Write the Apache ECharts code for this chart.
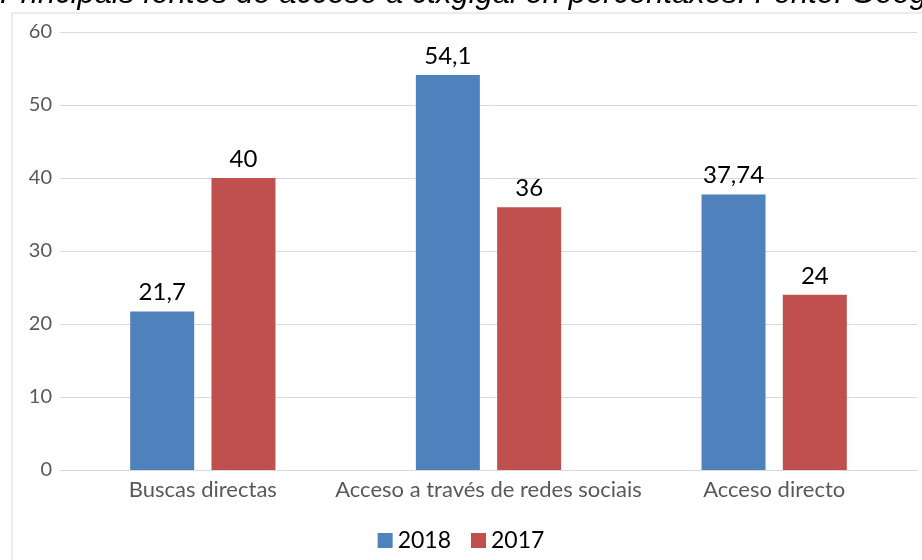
<!DOCTYPE html>
<html>
<head>
<meta charset="utf-8">
<script src="https://cdn.jsdelivr.net/npm/echarts@6/dist/echarts.min.js"></script>
<style>
html,body{margin:0;padding:0;background:#fff;}
#c{width:922px;height:560px;}
</style>
</head>
<body>
<div id="c"></div>
<script>
var categories = ['Buscas directas', 'Acceso a través de redes sociais', 'Acceso directo'];
var series2018 = [21.7, 54.1, 37.74];
var series2017 = [40, 36, 24];
var seriesNames = ['2018', '2017'];
var titleText = 'Principais fontes de acceso a ctxgigal en percentaxes. Fonte: Google Analytics';

var chart = echarts.init(document.getElementById('c'), null, {renderer: 'canvas'});
var labelFmt = function (p) { return String(p.value).replace('.', ','); };
var axisFont = 'Lato, "Noto Sans", sans-serif';
chart.setOption({
  animation: false,
  backgroundColor: '#fff',
  graphic: [
    {type: 'rect', left: 9.5, top: 10.5, shape: {width: 1000, height: 1000},
     style: {fill: 'none', stroke: '#d9d9d9', lineWidth: 1}, z: -1},
    {type: 'text', x: 0, y: -21,
     style: {text: titleText, font: 'italic 31px "Liberation Sans", Arial, sans-serif',
             fill: '#000', verticalAlign: 'top'}}
  ],
  grid: {left: 60, right: 5, top: 32, bottom: 90, containLabel: false},
  legend: {
    bottom: 3, left: 'center',
    itemWidth: 15, itemHeight: 15, itemGap: 20,
    icon: 'rect',
    textStyle: {fontSize: 23, color: '#000', fontFamily: axisFont},
    data: seriesNames
  },
  xAxis: {
    type: 'category', data: categories,
    axisLine: {lineStyle: {color: '#d9d9d9', width: 1}},
    axisTick: {show: false},
    axisLabel: {fontSize: 22, color: '#595959', fontFamily: axisFont, margin: 9, interval: 0}
  },
  yAxis: {
    type: 'value', min: 0, max: 60, interval: 10,
    axisLine: {show: false}, axisTick: {show: false},
    splitLine: {lineStyle: {color: '#d9d9d9', width: 1}},
    axisLabel: {fontSize: 20, color: '#595959', fontFamily: axisFont, margin: 8}
  },
  series: [
    {name: seriesNames[0], type: 'bar', data: series2018, barWidth: 64, barGap: '27%',
     itemStyle: {color: '#4F81BD'},
     label: {show: true, position: 'top', distance: 7, fontSize: 24, color: '#000',
             fontFamily: axisFont, formatter: labelFmt}},
    {name: seriesNames[1], type: 'bar', data: series2017, barWidth: 64,
     itemStyle: {color: '#C0504D'},
     label: {show: true, position: 'top', distance: 7, fontSize: 24, color: '#000',
             fontFamily: axisFont, formatter: labelFmt}}
  ]
});
</script>
</body>
</html>
